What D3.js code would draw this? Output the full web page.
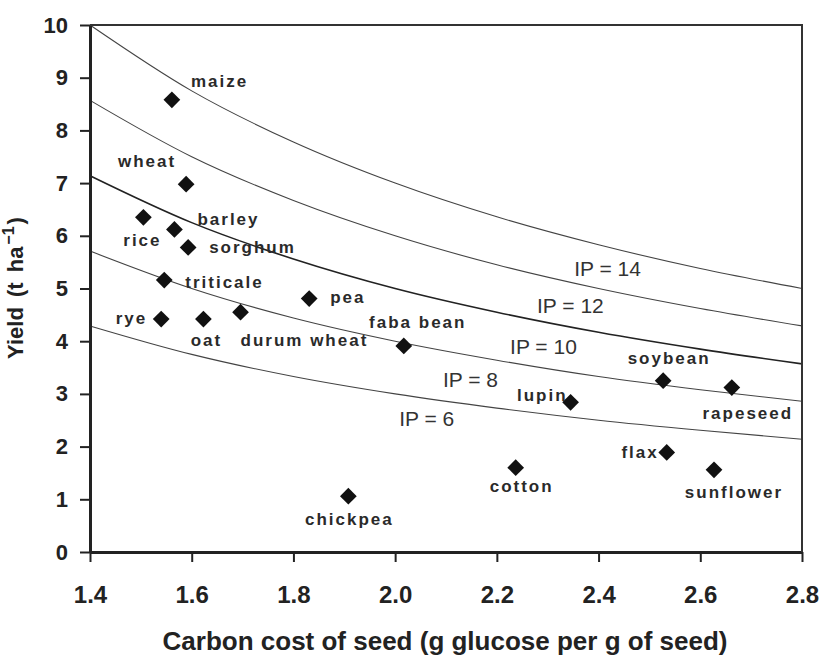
<!DOCTYPE html>
<html>
<head>
<meta charset="utf-8">
<script src="https://cdn.jsdelivr.net/npm/d3@7"></script>
<style>
  body { margin: 0; background: #fff; }
  svg { display: block; font-family: "Liberation Sans", Arial, sans-serif; }
</style>
</head>
<body>
<svg id="chart" width="823" height="656"></svg>
<script>
// crops: carbon cost of seed vs yield
var crops = ["maize", "wheat", "rice", "barley", "sorghum", "triticale", "rye", "oat",
  "durum wheat", "pea", "faba bean", "chickpea", "cotton", "lupin", "soybean",
  "rapeseed", "flax", "sunflower"];
var carbonCost = [1.561, 1.589, 1.505, 1.566, 1.593, 1.546, 1.540, 1.623,
  1.696, 1.831, 2.017, 1.908, 2.237, 2.345, 2.527, 2.662, 2.534, 2.627];
var yieldT = [8.58, 6.98, 6.35, 6.12, 5.78, 5.16, 4.42, 4.42,
  4.55, 4.81, 3.91, 1.06, 1.60, 2.84, 3.25, 3.12, 1.89, 1.56];

// iso-IP lines, read at the x ticks
var curveX = [1.4, 1.6, 1.8, 2.0, 2.2, 2.4, 2.6, 2.8];
var ipNames = ["IP = 14", "IP = 12", "IP = 10", "IP = 8", "IP = 6"];
var ip14 = [10.0, 8.75, 7.78, 7.0, 6.36, 5.83, 5.38, 5.0];
var ip12 = [8.57, 7.5, 6.67, 6.0, 5.45, 5.0, 4.62, 4.29];
var ip10 = [7.14, 6.25, 5.56, 5.0, 4.55, 4.17, 3.85, 3.57];
var ip8 = [5.71, 5.0, 4.44, 4.0, 3.64, 3.33, 3.08, 2.86];
var ip6 = [4.29, 3.75, 3.33, 3.0, 2.73, 2.5, 2.31, 2.14];
// where the IP labels sit (x, yield)
var ipLabelX = [2.352, 2.279, 2.226, 2.094, 2.008];
var ipLabelY = [5.24, 4.53, 3.76, 3.14, 2.40];

var xTicks = [1.4, 1.6, 1.8, 2.0, 2.2, 2.4, 2.6, 2.8];
var yTicks = [0, 1, 2, 3, 4, 5, 6, 7, 8, 9, 10];

// label placement around each point: dx, dy, anchor
var labelPos = {
  "maize": [19, -18, "start"], "wheat": [-10, -22, "end"], "rice": [-1, 24, "middle"],
  "barley": [23, -9, "start"], "sorghum": [21, 1, "start"], "triticale": [21, 3, "start"],
  "rye": [-14, 0, "end"], "oat": [3, 22, "middle"], "durum wheat": [0, 29, "start"],
  "pea": [21, -1, "start"], "faba bean": [14, -23, "middle"], "chickpea": [1, 24, "middle"],
  "cotton": [6, 19, "middle"], "lupin": [-3, -6, "end"], "soybean": [6, -22, "middle"],
  "rapeseed": [16, 26, "middle"], "flax": [-8, 1, "end"], "sunflower": [20, 23, "middle"]
};

var margin = {top: 25, left: 90};
var width = 712, height = 527;

var svg = d3.select("#chart").append("g")
    .attr("transform", "translate(" + margin.left + "," + margin.top + ")");

var x = d3.scaleLinear().domain([1.4, 2.8]).range([0, width]);
var y = d3.scaleLinear().domain([0, 10]).range([height, 0]);

// IP curves
var line = d3.line()
    .x(function(d) { return x(d[0]); })
    .y(function(d) { return y(d[1]); })
    .curve(d3.curveMonotoneX);

var ipSeries = [ip14, ip12, ip10, ip8, ip6];
svg.append("g")
  .selectAll("path")
  .data(ipSeries)
  .enter()
  .append("path")
    .attr("d", function(s) { return line(s.map(function(v, i) { return [curveX[i], v]; })); })
    .attr("fill", "none")
    .attr("stroke", function(s, i) { return i === 2 ? "#222" : "#444"; })
    .attr("stroke-width", function(s, i) { return i === 2 ? 1.6 : 1.1; });

svg.append("g")
  .selectAll("text")
  .data(ipNames)
  .enter()
  .append("text")
    .attr("x", function(d, i) { return x(ipLabelX[i]); })
    .attr("y", function(d, i) { return y(ipLabelY[i]); })
    .style("font-size", "21px")
    .style("fill", "#333")
    .text(function(d) { return d; });

// axes
var yAxis = svg.append("g")
    .call(d3.axisLeft(y).tickValues(yTicks).tickSize(10).tickPadding(12).tickFormat(d3.format("d")));
var xAxis = svg.append("g")
    .attr("transform", "translate(0," + height + ")")
    .call(d3.axisBottom(x).tickValues(xTicks).tickSize(10).tickPadding(24).tickFormat(d3.format(".1f")));

yAxis.select(".domain").attr("stroke", "#222").attr("stroke-width", 3).attr("d", "M0.5," + height + "V0");
xAxis.select(".domain").attr("stroke", "#222").attr("stroke-width", 3).attr("d", "M0,0.5H" + width);
yAxis.selectAll(".tick line").attr("stroke", "#222").attr("stroke-width", 2);
xAxis.selectAll(".tick line").attr("stroke", "#222").attr("stroke-width", 2);
yAxis.selectAll(".tick text").style("font-size", "22px").style("font-weight", "bold").style("fill", "#222");
xAxis.selectAll(".tick text").style("font-size", "24px").style("font-weight", "bold").style("fill", "#222");

// top and right border
svg.append("path")
    .attr("d", "M0,0H" + width + "V" + height)
    .attr("fill", "none")
    .attr("stroke", "#333")
    .attr("stroke-width", 2);

// points
var pts = crops.map(function(c, i) { return {name: c, cx: carbonCost[i], y: yieldT[i]}; });
var diamond = d3.symbol().type(d3.symbolSquare).size(140);

svg.append("g")
  .selectAll("path")
  .data(pts)
  .enter()
  .append("path")
    .attr("d", diamond)
    .attr("transform", function(d) { return "translate(" + x(d.cx) + "," + y(d.y) + ") rotate(45)"; })
    .style("fill", "#111");

svg.append("g")
  .selectAll("text")
  .data(pts)
  .enter()
  .append("text")
    .attr("x", function(d) { return x(d.cx) + labelPos[d.name][0]; })
    .attr("y", function(d) { return y(d.y) + labelPos[d.name][1] + 5; })
    .attr("text-anchor", function(d) { return labelPos[d.name][2]; })
    .style("font-size", "17px")
    .style("font-weight", "bold")
    .style("letter-spacing", "2px")
    .style("fill", "#2a2a2a")
    .text(function(d) { return d.name; });

// axis titles
svg.append("text")
    .attr("text-anchor", "middle")
    .attr("x", 355)
    .attr("y", 625)
    .style("font-size", "26px")
    .style("font-weight", "bold")
    .style("fill", "#222")
    .text("Carbon cost of seed (g glucose per g of seed)");

var yt = svg.append("text")
    .attr("text-anchor", "middle")
    .attr("transform", "translate(" + (-margin.left + 23) + "," + 263 + ") rotate(-90)")
    .style("font-size", "22px")
    .style("font-weight", "bold")
    .style("word-spacing", "4px")
    .style("fill", "#222");
yt.append("tspan").text("Yield (t ha");
yt.append("tspan").attr("dy", -9).attr("dx", 2).style("font-size", "16px").text("\u22121");
yt.append("tspan").attr("dy", 9).attr("dx", 2).text(")");
</script>
</body>
</html>
